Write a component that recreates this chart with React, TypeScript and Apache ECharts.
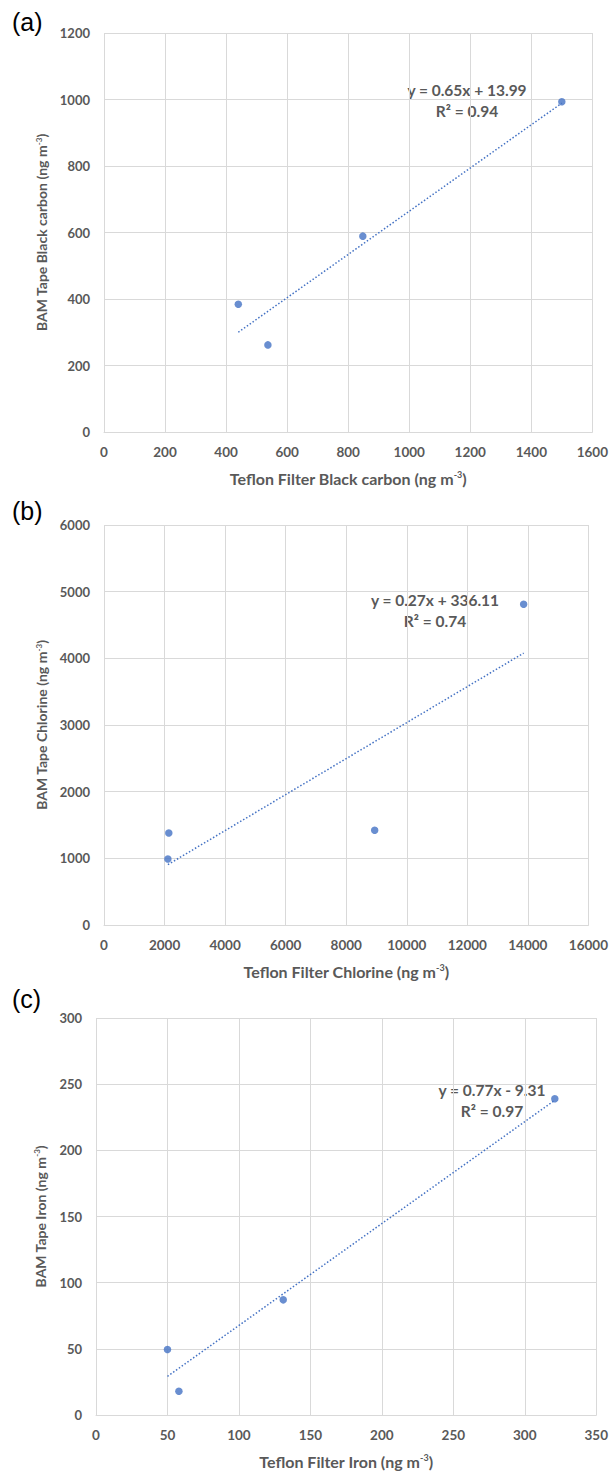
import React, { useEffect, useRef } from "react";
import * as echarts from "echarts";

// Panel (a) Black carbon
const bcTeflon = [440, 537, 848, 1500];
const bcBam = [384, 262, 589, 993];
const bcFit = { slope: 0.65, intercept: 13.99, r2: "0.94" };

// Panel (b) Chlorine
const clTeflon = [2110, 2140, 8940, 13860];
const clBam = [990, 1380, 1420, 4810];
const clFit = { slope: 0.27, intercept: 336.11, r2: "0.74" };

// Panel (c) Iron
const feTeflon = [50, 58, 131, 321];
const feBam = [49.5, 18, 87, 239];
const feFit = { slope: 0.77, intercept: -9.31, r2: "0.97" };

const panelLetters = ["(a)", "(b)", "(c)"];
const xNames = ["Teflon Filter Black carbon", "Teflon Filter Chlorine", "Teflon Filter Iron"];
const yNames = ["BAM Tape Black carbon", "BAM Tape Chlorine", "BAM Tape Iron"];
const xRanges = [
  { max: 1600, interval: 200 },
  { max: 16000, interval: 2000 },
  { max: 350, interval: 50 },
];
const yRanges = [
  { max: 1200, interval: 200 },
  { max: 6000, interval: 1000 },
  { max: 300, interval: 50 },
];

const BLUE = "#4472c4";
const GRAY = "#595959";
const GRID = "#d9d9d9";
const FONT = "Lato, 'Open Sans', sans-serif";

export default function App() {
  const ref = useRef<HTMLDivElement>(null);
  useEffect(() => {
    document.body.style.margin = "0";
    if (!ref.current) return;
    const chart = echarts.init(ref.current, undefined, { renderer: "svg" });

    const grids = [
      { left: 104, top: 33, width: 492, height: 399 },
      { left: 104, top: 525, width: 488, height: 400 },
      { left: 96, top: 1018, width: 504, height: 397 },
    ];
    const xs = [bcTeflon, clTeflon, feTeflon];
    const ys = [bcBam, clBam, feBam];
    const fits = [bcFit, clFit, feFit];
    const eqPos = [
      { x: 467, y: 90 },
      { x: 435, y: 600 },
      { x: 492, y: 1090 },
    ];
    const letterY = [23, 512, 1000];

    const supX = { fontSize: 9, verticalAlign: "top", padding: [0, 0, 7, 0], fontWeight: "bold", color: GRAY, fontFamily: FONT };
    const supY = { fontSize: 8, verticalAlign: "top", padding: [0, 0, 6, 0], fontWeight: "bold", color: GRAY, fontFamily: FONT };

    const xAxis = grids.map((_, i) => ({
      type: "value",
      gridIndex: i,
      min: 0,
      max: xRanges[i].max,
      interval: xRanges[i].interval,
      axisLine: { show: true, lineStyle: { color: GRID, width: 1 } },
      axisTick: { show: false },
      splitLine: { show: true, lineStyle: { color: GRID, width: 1 } },
      axisLabel: {
        color: GRAY,
        fontSize: 13.5,
        fontWeight: "bold",
        fontFamily: FONT,
        margin: 13,
        formatter: (v: number) => String(v),
      },
      name: xNames[i] + " (ng m{s|-3})",
      nameLocation: "middle",
      nameGap: 38,
      nameTextStyle: { color: GRAY, fontSize: 16, fontWeight: "bold", fontFamily: FONT, rich: { s: supX } },
    }));
    const yAxis = grids.map((_, i) => ({
      type: "value",
      gridIndex: i,
      min: 0,
      max: yRanges[i].max,
      interval: yRanges[i].interval,
      axisLine: { show: false },
      axisTick: { show: false },
      splitLine: { show: true, lineStyle: { color: GRID, width: 1 } },
      axisLabel: {
        color: GRAY,
        fontSize: 13,
        fontWeight: "bold",
        fontFamily: FONT,
        margin: 14,
        formatter: (v: number) => String(v),
      },
      name: yNames[i] + " (ng m{s|-3})",
      nameLocation: "middle",
      nameGap: 49,
      nameTextStyle: { color: GRAY, fontSize: 14, fontWeight: "bold", fontFamily: FONT, rich: { s: supY } },
    }));

    const series: any[] = [];
    grids.forEach((_, i) => {
      const f = fits[i];
      const xMin = Math.min(...xs[i]);
      const xMax = Math.max(...xs[i]);
      series.push({
        type: "line",
        xAxisIndex: i,
        yAxisIndex: i,
        data: [
          [xMin, f.slope * xMin + f.intercept],
          [xMax, f.slope * xMax + f.intercept],
        ],
        symbol: "none",
        lineStyle: { color: BLUE, width: 1.5, type: [1.5, 2] },
        silent: true,
        z: 2,
      });
      series.push({
        type: "scatter",
        xAxisIndex: i,
        yAxisIndex: i,
        data: xs[i].map((x, k) => [x, ys[i][k]]),
        symbol: "circle",
        symbolSize: 7.5,
        itemStyle: { color: BLUE },
        z: 3,
      });
    });

    const graphics: any[] = [];
    panelLetters.forEach((t, i) => {
      graphics.push({
        type: "text",
        left: 12,
        top: letterY[i] - 14,
        style: { text: t, fill: "#000", font: "25px 'Liberation Sans', Arial, sans-serif" },
      });
    });
    fits.forEach((f, i) => {
      const sign = f.intercept < 0 ? "-" : "+";
      graphics.push({
        type: "text",
        x: eqPos[i].x,
        y: eqPos[i].y,
        style: {
          text: `y = ${f.slope.toFixed(2)}x ${sign} ${Math.abs(f.intercept).toFixed(2)}`,
          fill: GRAY,
          font: `bold 15.5px ${FONT}`,
          textAlign: "center",
          textVerticalAlign: "middle",
        },
      });
      graphics.push({
        type: "text",
        x: eqPos[i].x,
        y: eqPos[i].y + 21,
        style: {
          text: `R² = ${f.r2}`,
          fill: GRAY,
          font: `bold 15.5px ${FONT}`,
          textAlign: "center",
          textVerticalAlign: "middle",
        },
      });
    });

    chart.setOption({
      animation: false,
      backgroundColor: "#fff",
      grid: grids.map((g) => ({ ...g, containLabel: false })),
      xAxis,
      yAxis,
      series,
      graphic: graphics,
    });
    return () => chart.dispose();
  }, []);
  return <div ref={ref} style={{ width: 611, height: 1471 }} />;
}
